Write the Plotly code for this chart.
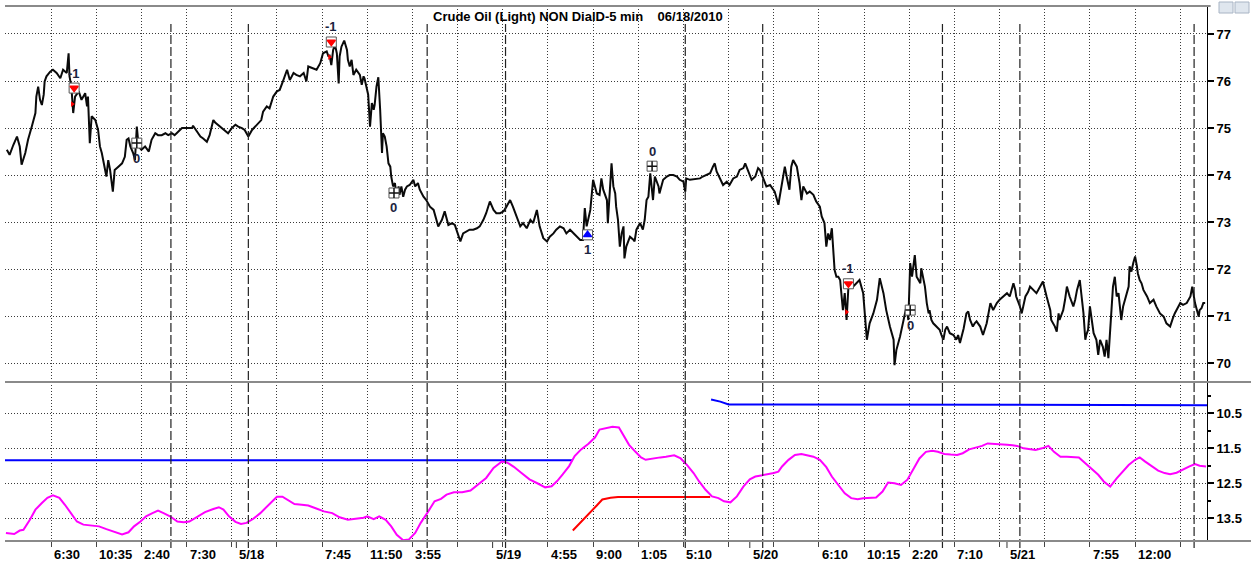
import plotly.graph_objects as go
from plotly.subplots import make_subplots

# ---------------- data (x = 5-minute bar index) ----------------
price_bar_a = [2, 5, 9, 13, 16, 18, 22, 25, 29, 33,
               34, 36, 38, 40, 42, 43, 45, 49, 52, 56,
               60, 63, 67, 69, 70, 72, 74, 76, 80, 83,
               87, 89, 90, 92, 94, 98, 101, 103, 105, 107,
               110, 112, 114, 117, 119, 123, 127, 130, 132, 134,
               136, 139, 141, 143, 145, 148, 152, 156, 159, 163,
               166, 170, 174, 177, 181, 184, 188, 192, 195, 199,
               203, 204, 208, 212, 215, 219, 222, 226, 228, 231,
               235, 239, 242, 246, 250, 253, 257, 260, 264, 268,
               271, 275, 278, 280, 284, 287, 291, 295, 298, 302,
               306, 309, 313, 316, 320, 324, 327, 329]
price_val_a = [74.54, 74.43, 74.64, 74.82, 74.61, 74.22, 74.47, 74.75, 75.03, 75.32,
               75.67, 75.88, 75.60, 75.49, 75.71, 75.99, 76.10, 76.20, 76.24, 76.17,
               76.06, 76.24, 76.17, 76.59, 76.10, 75.88, 75.32, 75.67, 75.78, 75.60,
               75.74, 75.46, 75.67, 74.68, 75.25, 75.17, 74.96, 74.61, 74.47, 74.25,
               73.97, 74.32, 74.11, 73.65, 74.11, 74.18, 74.25, 74.39, 74.75, 74.78,
               74.61, 74.47, 74.32, 75.03, 74.61, 74.54, 74.61, 74.50, 74.75, 74.89,
               74.85, 74.85, 74.89, 74.85, 74.89, 74.85, 74.93, 75.00, 75.00, 75.00,
               75.00, 75.05, 74.93, 74.82, 74.78, 74.71, 74.85, 75.17, 75.12, 75.07,
               75.00, 74.93, 74.89, 75.00, 75.07, 75.03, 75.00, 74.96, 74.82, 74.96,
               75.03, 75.10, 75.17, 75.35, 75.46, 75.42, 75.67, 75.78, 75.81, 76.02,
               76.24, 76.02, 76.17, 76.13, 76.10, 76.17, 75.99, 76.31]

price_bar_b = [334, 338, 342, 345, 349, 351, 352, 354, 356, 358,
               360, 362, 363, 365, 368, 371, 372, 374, 376, 378,
               381, 385, 387, 389, 390, 392, 394, 396, 398, 400,
               401, 403, 405, 407, 409, 410, 412, 414, 416, 418,
               419, 421, 423, 425, 427, 428, 430, 432, 434, 436,
               439, 443, 445, 448, 450, 454, 457, 461, 465, 468,
               470, 474, 477, 481, 485, 488, 492, 494, 497, 501,
               504, 508, 512, 515, 519, 522, 526, 530, 533, 537,
               541, 544, 548, 551, 555, 559, 562, 566, 570, 573,
               577, 580, 584, 588, 591, 595, 598, 602, 606, 609,
               613, 617, 620, 624, 627, 629, 631, 635, 638, 642,
               645, 647, 649, 653, 654]
price_val_b = [76.27, 76.24, 76.38, 76.59, 76.63, 76.52, 76.56, 76.34, 76.66, 76.77,
               76.59, 75.95, 76.52, 76.73, 76.86, 76.66, 76.45, 76.31, 76.45, 76.13,
               76.24, 76.13, 75.92, 76.10, 76.06, 75.88, 75.71, 75.03, 75.53, 75.39,
               75.49, 75.88, 76.08, 75.39, 74.47, 74.89, 74.82, 74.61, 74.25, 74.18,
               73.97, 73.76, 73.83, 73.54, 73.76, 73.58, 73.76, 73.54, 73.69, 73.76,
               73.79, 73.90, 73.76, 73.83, 73.69, 73.54, 73.47, 73.33, 73.26, 73.05,
               72.91, 73.05, 73.23, 72.94, 72.98, 72.94, 72.69, 72.59, 72.76, 72.80,
               72.84, 72.84, 72.87, 72.91, 73.05, 73.19, 73.44, 73.26, 73.19, 73.19,
               73.23, 73.33, 73.47, 73.33, 73.12, 72.91, 72.98, 72.87, 73.05, 72.98,
               73.26, 72.91, 72.66, 72.59, 72.69, 72.76, 72.84, 72.91, 72.87, 72.76,
               72.84, 72.76, 72.69, 72.62, 72.62, 73.30, 72.91, 73.26, 73.90, 73.61,
               73.58, 73.93, 73.69, 73.47, 72.98]

price_bar_c = [656, 658, 660, 662, 663, 665, 667, 669, 671, 672,
               674, 678, 682, 683, 685, 689, 692, 694, 696, 698,
               700, 701, 703, 705, 709, 710, 714, 718, 721, 725,
               729, 732, 736, 738, 739, 743, 747, 750, 754, 757,
               761, 765, 768, 770, 772, 776, 779, 783, 786, 790,
               794, 797, 801, 803, 806, 810, 814, 817, 819, 823,
               826, 830, 833, 835, 839, 842, 844, 846, 848, 851,
               853, 855, 859, 862, 864, 866, 870, 873, 877, 880,
               884, 886, 889, 891, 893, 895, 897, 898, 900, 902,
               904, 906, 908, 909, 911, 913, 915, 917, 920, 924,
               927, 931, 935, 938, 942, 946, 949, 953, 956, 960,
               964, 965, 967, 971, 974, 978, 980]
price_val_c = [73.61, 74.25, 73.76, 73.61, 73.33, 73.05, 72.48, 72.76, 72.91, 72.23,
               72.48, 72.69, 72.62, 72.59, 72.84, 72.98, 72.84, 73.05, 73.47, 73.54,
               74.04, 73.79, 73.47, 73.97, 73.76, 73.61, 73.90, 73.97, 74.00, 74.00,
               73.97, 73.90, 73.86, 73.65, 73.93, 73.90, 73.91, 73.93, 73.93, 73.97,
               74.00, 74.04, 74.18, 74.25, 74.08, 73.93, 73.79, 73.86, 73.79, 73.93,
               73.97, 74.11, 74.15, 74.25, 74.11, 73.90, 73.97, 74.15, 74.11, 73.93,
               73.76, 73.79, 73.72, 73.65, 73.37, 73.69, 73.93, 74.18, 73.97, 73.69,
               74.18, 74.32, 74.18, 73.83, 73.47, 73.76, 73.61, 73.65, 73.58, 73.44,
               73.33, 73.12, 72.98, 72.48, 72.76, 72.62, 72.87, 72.48, 71.98, 71.84,
               71.84, 71.77, 71.35, 71.13, 71.49, 70.92, 71.63, 71.77, 71.63, 71.70,
               71.77, 71.49, 70.50, 70.85, 71.06, 71.35, 71.81, 71.49, 71.13, 70.78,
               70.50, 69.96, 70.28, 70.57, 70.85, 71.21, 70.92]

price_bar_d = [982, 984, 985, 987, 989, 991, 993, 994, 996, 998,
               1000, 1002, 1003, 1005, 1007, 1011, 1014, 1016, 1018, 1020,
               1022, 1025, 1029, 1032, 1034, 1036, 1038, 1040, 1043, 1045,
               1047, 1050, 1052, 1054, 1058, 1061, 1065, 1069, 1072, 1076,
               1079, 1083, 1087, 1090, 1094, 1096, 1097, 1101, 1103, 1107,
               1110, 1112, 1116, 1119, 1123, 1126, 1130, 1134, 1135, 1139,
               1141, 1143, 1144, 1148, 1150, 1152, 1155, 1159, 1161, 1163,
               1166, 1168, 1170, 1172, 1173, 1175, 1177, 1179, 1181, 1184,
               1186, 1188, 1191, 1193, 1195, 1197, 1199, 1200, 1202, 1204,
               1206, 1208, 1210, 1211, 1213, 1217, 1219, 1220, 1222, 1224,
               1226, 1228, 1229, 1231, 1233, 1235, 1239, 1242, 1246, 1249,
               1253, 1257, 1260, 1264, 1266, 1267, 1269, 1271, 1275, 1278,
               1282, 1286, 1288, 1291, 1293, 1295, 1296, 1298, 1300, 1302]
price_val_d = [72.13, 71.84, 72.02, 72.30, 71.84, 71.77, 71.70, 72.02, 71.84, 71.63,
               71.28, 71.06, 71.13, 70.92, 70.85, 70.78, 70.71, 70.60, 70.50, 70.71,
               70.78, 70.64, 70.60, 70.50, 70.60, 70.43, 70.57, 70.74, 71.06, 71.10,
               70.92, 70.78, 70.85, 70.89, 70.78, 70.60, 70.85, 71.28, 71.13, 71.28,
               71.35, 71.42, 71.49, 71.42, 71.70, 71.56, 71.42, 71.21, 71.06, 71.42,
               71.52, 71.63, 71.56, 71.49, 71.63, 71.74, 71.42, 71.13, 70.92, 70.78,
               70.67, 71.06, 70.92, 71.13, 71.35, 71.63, 71.42, 71.21, 71.35, 71.56,
               71.77, 71.42, 71.06, 70.50, 70.60, 70.71, 71.21, 70.92, 70.64, 70.50,
               70.18, 70.50, 70.35, 70.14, 70.50, 70.11, 70.64, 70.92, 71.63, 71.84,
               71.42, 71.49, 71.13, 70.92, 71.21, 71.49, 71.63, 72.06, 71.95, 72.13,
               72.27, 72.06, 71.91, 71.77, 71.70, 71.56, 71.42, 71.28, 71.35, 71.21,
               71.06, 70.99, 70.85, 70.78, 70.92, 70.96, 71.06, 71.13, 71.28, 71.24,
               71.28, 71.42, 71.63, 71.28, 71.13, 70.99, 71.13, 71.17, 71.28, 71.28]

# oscillator (lower pane), magenta
osc_bar = [1, 10, 16, 20, 27, 33, 40, 46, 52, 59,
           65, 72, 78, 85, 93, 102, 110, 119, 127, 134,
           140, 147, 153, 160, 166, 172, 179, 187, 194, 200,
           209, 217, 226, 232, 237, 243, 250, 256, 262, 269,
           277, 286, 295, 301, 307, 314, 322, 329, 337, 346,
           355, 363, 372, 380, 389, 393, 400, 406, 413, 419,
           425, 432, 438, 445, 451, 458, 466, 473, 479, 487,
           496, 505, 513, 522, 530, 539, 545, 552, 560, 569,
           578, 586, 593, 599, 605, 612, 618, 625, 633, 640,
           645, 652, 659, 666, 670, 677, 684, 690, 695, 702,
           711, 717, 726, 733, 740, 747, 753, 760, 767, 774,
           780, 787, 794, 801, 808, 814, 821, 828, 834, 839,
           843, 850, 857, 864, 871, 877, 884, 891, 897, 904,
           911, 918, 925, 931, 938, 945, 952, 958, 965, 972,
           979, 985, 992, 999, 1006, 1012, 1019, 1026, 1033, 1039,
           1046, 1053, 1060, 1066, 1073, 1080, 1087, 1093, 1098, 1105,
           1111, 1118, 1125, 1132, 1138, 1145, 1152, 1159, 1165, 1172,
           1179, 1186, 1192, 1199, 1206, 1213, 1219, 1226, 1231, 1237,
           1244, 1251, 1258, 1264, 1271, 1278, 1285, 1291, 1296, 1303]
osc_val = [13.93, 13.96, 13.86, 13.84, 13.55, 13.26, 13.07, 12.92, 12.85, 12.92,
           13.12, 13.36, 13.60, 13.69, 13.71, 13.74, 13.82, 13.91, 13.97, 13.91,
           13.74, 13.60, 13.45, 13.36, 13.29, 13.36, 13.45, 13.60, 13.62, 13.60,
           13.45, 13.33, 13.24, 13.19, 13.26, 13.45, 13.61, 13.67, 13.64, 13.53,
           13.36, 13.12, 12.89, 12.89, 12.99, 13.10, 13.12, 13.14, 13.22, 13.31,
           13.36, 13.48, 13.55, 13.53, 13.49, 13.45, 13.53, 13.45, 13.55, 13.74,
           13.98, 14.14, 14.12, 13.93, 13.64, 13.36, 13.02, 12.95, 12.83, 12.76,
           12.76, 12.71, 12.54, 12.35, 12.06, 11.88, 11.91, 12.03, 12.20, 12.39,
           12.51, 12.62, 12.59, 12.44, 12.25, 12.01, 11.72, 11.53, 11.37, 11.19,
           10.96, 10.91, 10.88, 10.90, 11.07, 11.40, 11.60, 11.76, 11.83, 11.79,
           11.76, 11.74, 11.70, 11.79, 11.98, 12.21, 12.45, 12.69, 12.88, 12.93,
           13.02, 13.05, 12.88, 12.60, 12.39, 12.31, 12.28, 12.24, 12.21, 12.17,
           12.02, 11.83, 11.69, 11.66, 11.70, 11.74, 11.83, 12.04, 12.31, 12.55,
           12.79, 12.93, 12.96, 12.93, 12.91, 12.91, 12.74, 12.48, 12.50, 12.55,
           12.40, 12.12, 11.79, 11.60, 11.57, 11.60, 11.66, 11.68, 11.69, 11.64,
           11.53, 11.48, 11.43, 11.36, 11.38, 11.40, 11.40, 11.41, 11.43, 11.50,
           11.53, 11.55, 11.50, 11.43, 11.60, 11.74, 11.74, 11.74, 11.76, 11.93,
           12.10, 12.26, 12.45, 12.60, 12.36, 12.17, 11.98, 11.83, 11.76, 11.88,
           12.02, 12.14, 12.21, 12.24, 12.20, 12.10, 12.02, 11.95, 12.00, 12.02]

# threshold levels (lower pane)
blue1_bar = [0, 616]
blue1_val = [11.84, 11.84]
blue2_bar = [766, 776, 785, 1304]
blue2_val = [10.10, 10.16, 10.24, 10.26]
red_bar = [616, 625, 633, 642, 648, 657, 665, 765]
red_val = [13.86, 13.60, 13.40, 13.14, 12.97, 12.92, 12.90, 12.90]

# trade signals (upper pane)
sig_bar = [75, 143, 354, 422, 632, 702, 915, 982]
sig_price = [75.85, 74.68, 76.83, 73.62, 72.73, 74.19, 71.69, 71.13]
sig_label = ["-1", "0", "-1", "0", "1", "0", "-1", "0"]
sig_label_side = ["above", "below", "above", "below", "below", "above", "above", "below"]
stop_bar = [73, 352, 913]
stop_price = [75.51, 76.51, 71.09]

# axis structure
grid_bars = [50 + 49 * k for k in range(26)]
date_tick_bars = [251, 529, 808, 1087]
day_break_bars = [180, 264, 458, 543, 738, 822, 1017, 1101, 1290]
xlabel_bar = [50, 99, 148, 197, 251, 344, 393, 442, 529, 589, 638, 687, 736,
              808, 883, 932, 981, 1030, 1087, 1177, 1226]
xlabel_text = ["6:30", "10:35", "2:40", "7:30", "5/18", "7:45", "11:50", "3:55",
               "5/19", "4:55", "9:00", "1:05", "5:10", "5/20", "6:10", "10:15",
               "2:20", "7:10", "5/21", "7:55", "12:00"]
price_ticks = [70, 71, 72, 73, 74, 75, 76, 77]
osc_ticks = [10.5, 11.5, 12.5, 13.5]
osc_minor = [10, 11, 12, 13]
title_text = "Crude Oil (Light) NON DialD-5 min\u00a0\u00a0\u00a0\u00a006/18/2010"

# ---------------- figure ----------------
W, H = 1251, 564
ML, MR, MT, MB = 5, 44, 6, 23
fig = make_subplots(rows=2, cols=1, shared_xaxes=True, vertical_spacing=0,
                    row_heights=[0.7028, 0.2972])

price_bar = price_bar_a + price_bar_b + price_bar_c + price_bar_d
price_val = price_val_a + price_val_b + price_val_c + price_val_d

fig.add_trace(go.Scatter(x=price_bar, y=price_val, mode="lines",
                         line=dict(color="#0a0a0a", width=2.0), showlegend=False),
              row=1, col=1)

fig.add_trace(go.Scatter(x=blue1_bar, y=blue1_val, mode="lines",
                         line=dict(color="#0000ff", width=2), showlegend=False), row=2, col=1)
fig.add_trace(go.Scatter(x=blue2_bar, y=blue2_val, mode="lines",
                         line=dict(color="#0000ff", width=2), showlegend=False), row=2, col=1)
fig.add_trace(go.Scatter(x=red_bar, y=red_val, mode="lines",
                         line=dict(color="#ff0000", width=2), showlegend=False), row=2, col=1)
fig.add_trace(go.Scatter(x=osc_bar, y=osc_val, mode="lines",
                         line=dict(color="#ff00ff", width=2), showlegend=False), row=2, col=1)

# signal markers
inner_sym = {"-1": "triangle-down", "1": "triangle-up", "0": "cross-thin-open"}
inner_col = {"-1": "#ff0000", "1": "#0000ff", "0": "#111111"}
fig.add_trace(go.Scatter(x=sig_bar, y=sig_price, mode="markers",
                         marker=dict(symbol="square", size=10, color="white",
                                     line=dict(color="#555555", width=1)),
                         showlegend=False), row=1, col=1)
fig.add_trace(go.Scatter(x=sig_bar, y=sig_price, mode="markers",
                         marker=dict(symbol=[inner_sym[s] for s in sig_label], size=7,
                                     color=[inner_col[s] for s in sig_label],
                                     line=dict(color=[inner_col[s] for s in sig_label], width=1.5)),
                         showlegend=False), row=1, col=1)
fig.add_trace(go.Scatter(x=stop_bar, y=stop_price, mode="markers",
                         marker=dict(symbol="triangle-right", size=5, color="#ff0000"),
                         showlegend=False), row=1, col=1)
for b, p, lab, side in zip(sig_bar, sig_price, sig_label, sig_label_side):
    fig.add_annotation(x=b, y=p, xref="x", yref="y", text=lab, showarrow=False,
                       yshift=15 if side == "above" else -15,
                       font=dict(family="Liberation Sans", size=13, color="#1b2440", weight="bold"))

# x labels (left aligned after their tick)
for b, t in zip(xlabel_bar, xlabel_text):
    fig.add_annotation(x=b, y=-0.008, xref="x2", yref="paper", text=t, showarrow=False,
                       xanchor="left", yanchor="top", xshift=1,
                       font=dict(family="Liberation Sans", size=13, color="black", weight="bold"))

fig.add_annotation(x=(578 - ML) / (W - ML - MR), y=0.981, xref="paper", yref="paper",
                   text=title_text, showarrow=False, xanchor="center", yanchor="middle",
                   font=dict(family="Liberation Sans", size=13, color="black", weight="bold"))

shapes = []
plot_h = H - MT - MB
for b in day_break_bars:
    shapes.append(dict(type="line", xref="x", yref="paper", x0=b, x1=b,
                       y0=-7 / plot_h, y1=(H - MB - 24) / plot_h,
                       line=dict(color="#222222", width=1.2, dash="9px,3px")))
for b in date_tick_bars:
    shapes.append(dict(type="line", xref="x", yref="paper", x0=b, x1=b,
                       y0=-7 / plot_h, y1=0, line=dict(color="#333333", width=1)))
sep_y = 0.2972
for yy in [0, sep_y]:
    shapes.append(dict(type="line", xref="paper", yref="paper", x0=0, x1=(W - ML) / (W - ML - MR),
                       y0=yy, y1=yy, line=dict(color="#8a8a8a", width=2)))
shapes.append(dict(type="line", xref="paper", yref="paper", x0=0, x1=1.003,
                   y0=1, y1=1, line=dict(color="#8a8a8a", width=2)))
# window buttons (top right)
for x0, x1 in [(1219, 1233), (1235, 1249)]:
    shapes.append(dict(type="rect", xref="paper", yref="paper",
                       x0=(x0 - ML) / (W - ML - MR), x1=(x1 - ML) / (W - ML - MR),
                       y0=(H - MB - 13) / plot_h, y1=(H - MB - 2) / plot_h,
                       fillcolor="#dfe6ee", line=dict(color="#a8b4c4", width=1)))

fig.update_layout(
    width=W, height=H, margin=dict(l=ML, r=MR, t=MT, b=MB),
    paper_bgcolor="white", plot_bgcolor="white", showlegend=False,
    shapes=shapes,
    font=dict(family="Liberation Sans", size=13, color="black"),
)

grid_kw = dict(showgrid=True, gridcolor="#3a3a3a", gridwidth=1, griddash="1px,2px")
fig.update_xaxes(range=[0, 1304], tickmode="array", tickvals=grid_bars, showticklabels=False,
                 zeroline=False, showline=False, **grid_kw)
fig.update_xaxes(ticks="outside", ticklen=5, tickcolor="#444444", row=2, col=1)
fig.update_xaxes(ticks="", row=1, col=1)

fig.update_yaxes(side="right", range=[69.602, 77.595], tickmode="array", tickvals=price_ticks,
                 ticks="outside", ticklen=6, tickcolor="black", tickwidth=1.5,
                 showline=True, linecolor="black", linewidth=1, zeroline=False, automargin=False,
                 tickfont=dict(family="Liberation Sans", size=13, color="black", weight="bold"),
                 **grid_kw, row=1, col=1)
fig.update_yaxes(side="right", range=[14.16, 9.596], tickmode="array", tickvals=osc_ticks,
                 ticktext=[f"{v:.1f}" for v in osc_ticks],
                 ticks="outside", ticklen=6, tickcolor="black", tickwidth=1.5,
                 showline=True, linecolor="black", linewidth=1, zeroline=False, automargin=False,
                 minor=dict(tickvals=osc_minor, ticks="outside", ticklen=3, tickcolor="black",
                            showgrid=False),
                 tickfont=dict(family="Liberation Sans", size=13, color="black", weight="bold"),
                 **grid_kw, row=2, col=1)

fig.write_html("out.html", config={"displayModeBar": False},
               post_script="document.body.style.margin='0px';document.body.style.overflow='hidden';")
